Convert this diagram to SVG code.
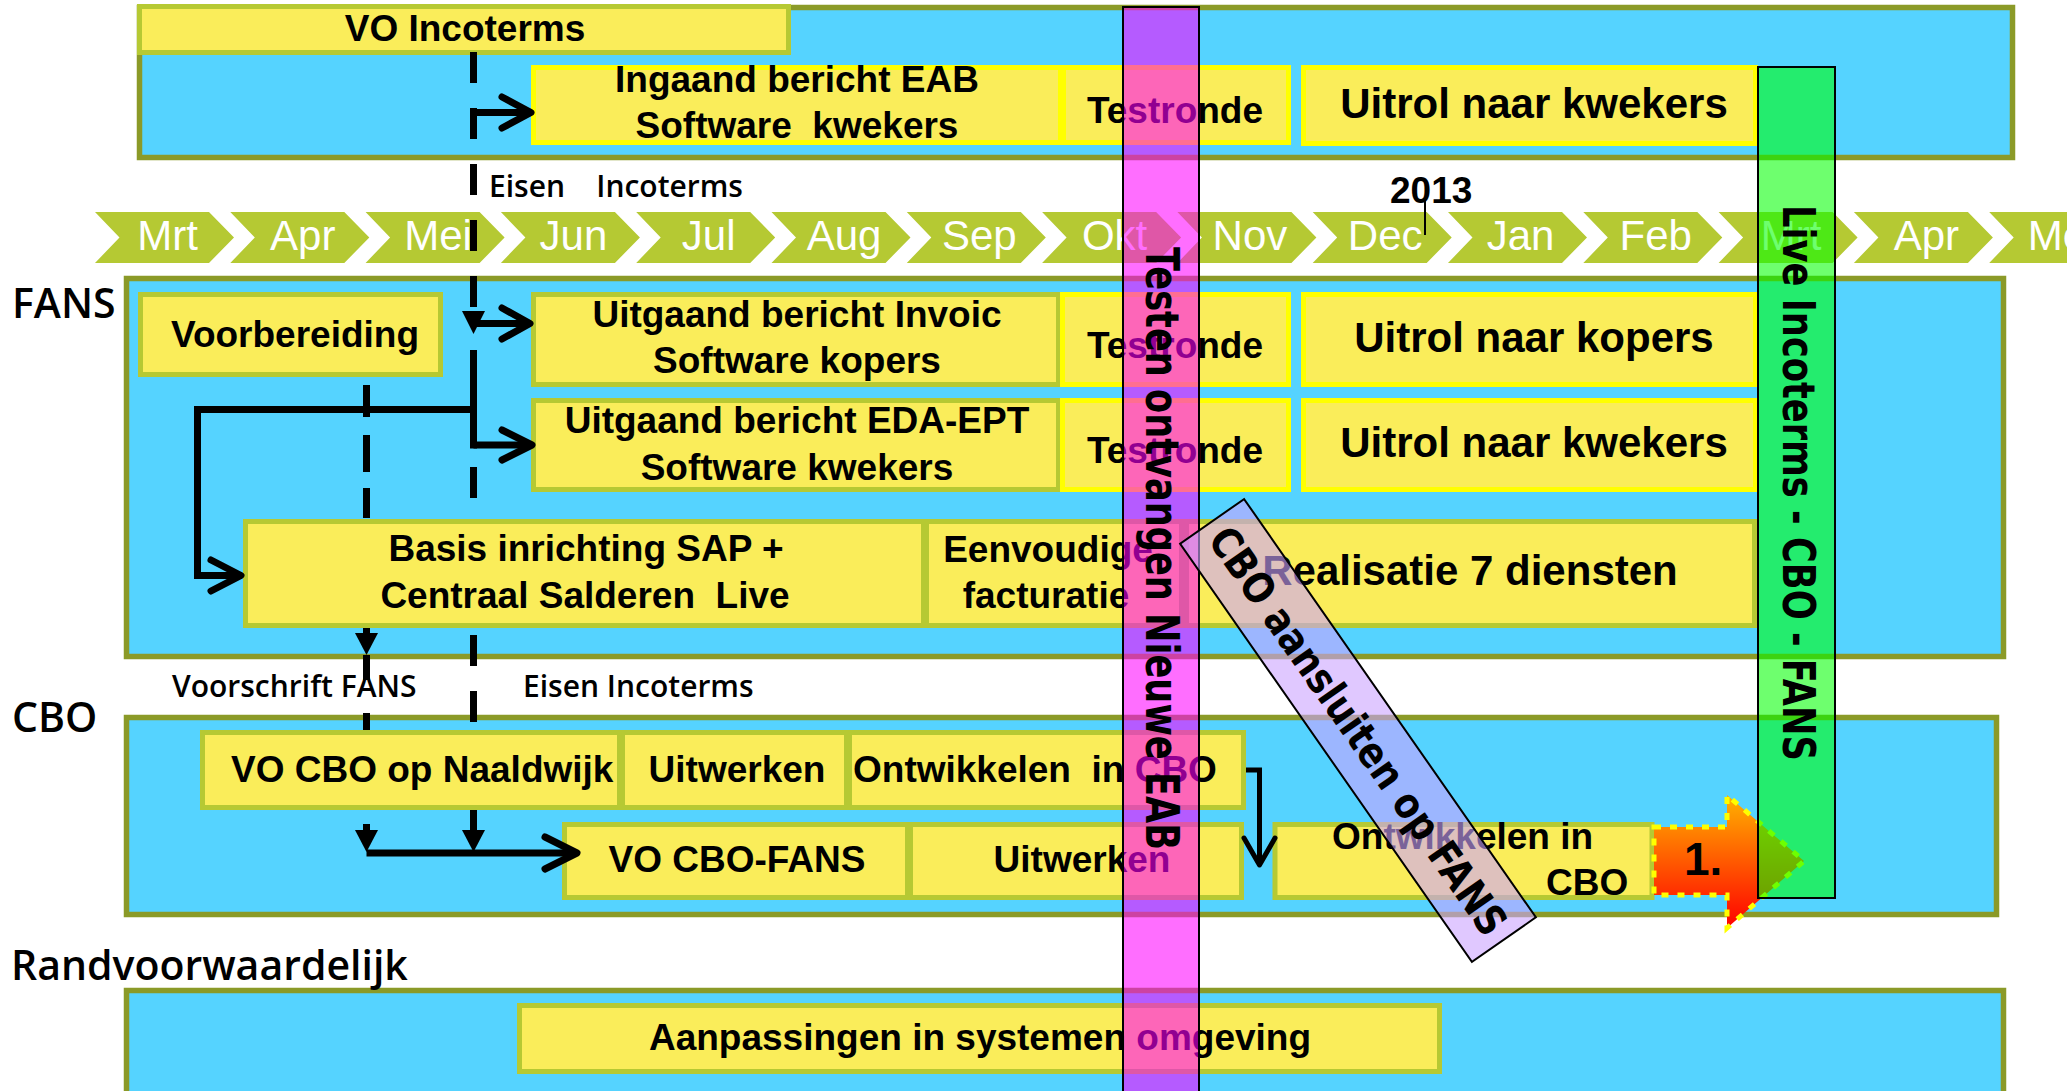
<svg xmlns="http://www.w3.org/2000/svg" width="2067" height="1091" viewBox="0 0 2067 1091">
<style>
.band{fill:#55D3FF;stroke:#8B9A28;stroke-width:5.5}
.box{fill:#FAED5A;stroke:#B6C933;stroke-width:5}
.boxy{fill:#FAED5A;stroke:#FFFF00;stroke-width:5}
.t{font-family:"Liberation Sans",Arial,sans-serif;font-weight:bold;font-size:37px;fill:#000;text-anchor:middle;white-space:pre}
.ts{text-anchor:start}
.big{font-size:42px}
.lbl{font-family:"Open Sans","DejaVu Sans",sans-serif;font-weight:600;font-size:41px;fill:#000;white-space:pre}
.sm{font-size:30px}
.mon{font-family:"Liberation Sans",Arial,sans-serif;font-size:42px;fill:#FFFFFF;text-anchor:middle}
.chev{fill:#B5C933}
.ln{fill:none;stroke:#000;stroke-width:7}
.hd{fill:none;stroke:#000;stroke-width:7;stroke-linecap:round;stroke-linejoin:round}
.tri{fill:#000}
.vt{font-family:"DejaVu Sans",Verdana,sans-serif;font-weight:bold;fill:#000}
</style>
<defs>
<path id="chev" d="M0 212 h114 l25 25.5 l-25 25.5 h-114 l24.5 -25.5 z"/>
<linearGradient id="og" x1="0" y1="0" x2="0" y2="1">
<stop offset="0" stop-color="#FFB300"/>
<stop offset="1" stop-color="#FF0000"/>
</linearGradient>
</defs>
<rect width="2067" height="1091" fill="#FFFFFF"/>

<g id="bands">
<rect class="band" x="139.5" y="7.5" width="1873" height="150"/>
<rect class="band" x="126.5" y="278.5" width="1877" height="378"/>
<rect class="band" x="126.5" y="717.5" width="1870" height="197"/>
<rect class="band" x="126.5" y="990.5" width="1877" height="200"/>
</g>

<g id="timeline">
<use href="#chev" x="95" class="chev"/>
<use href="#chev" x="230.3" class="chev"/>
<use href="#chev" x="365.6" class="chev"/>
<use href="#chev" x="500.9" class="chev"/>
<use href="#chev" x="636.2" class="chev"/>
<use href="#chev" x="771.5" class="chev"/>
<use href="#chev" x="906.8" class="chev"/>
<use href="#chev" x="1042.1" class="chev"/>
<use href="#chev" x="1177.4" class="chev"/>
<use href="#chev" x="1312.7" class="chev"/>
<use href="#chev" x="1448" class="chev"/>
<use href="#chev" x="1583.3" class="chev"/>
<use href="#chev" x="1718.6" class="chev"/>
<use href="#chev" x="1853.9" class="chev"/>
<use href="#chev" x="1989.2" class="chev"/>
<text class="mon" x="167.5" y="250">Mrt</text>
<text class="mon" x="302.8" y="250">Apr</text>
<text class="mon" x="438.1" y="250">Mei</text>
<text class="mon" x="573.4" y="250">Jun</text>
<text class="mon" x="708.7" y="250">Jul</text>
<text class="mon" x="844" y="250">Aug</text>
<text class="mon" x="979.3" y="250">Sep</text>
<text class="mon" x="1114.6" y="250">Okt</text>
<text class="mon" x="1249.9" y="250">Nov</text>
<text class="mon" x="1385.2" y="250">Dec</text>
<text class="mon" x="1520.5" y="250">Jan</text>
<text class="mon" x="1655.8" y="250">Feb</text>
<text class="mon" x="1791.1" y="250">Mrt</text>
<text class="mon" x="1926.4" y="250">Apr</text>
<text class="mon" x="2061.7" y="250">Mei</text>
<text class="t ts" x="1390" y="203">2013</text>
</g>

<g id="labels">
<text class="lbl" x="12" y="318">FANS</text>
<text class="lbl" x="12" y="732">CBO</text>
<text class="lbl" x="11" y="980">Randvoorwaardelijk</text>
<text class="lbl sm" x="489" y="197">Eisen    Incoterms</text>
<text class="lbl sm" x="172" y="697">Voorschrift FANS</text>
<text class="lbl sm" x="523" y="697">Eisen Incoterms</text>
</g>

<g id="n-vo-incoterms"><rect class="box" x="139.5" y="6.5" width="649" height="46"/><text class="t" x="465" y="41">VO Incoterms</text></g>
<g id="n-ingaand"><rect class="boxy" x="533.5" y="67.5" width="527" height="75"/><text class="t" x="797" y="92">Ingaand bericht EAB</text><text class="t" x="797" y="138">Software  kwekers</text></g>
<g id="n-testronde-1"><rect class="boxy" x="1063.5" y="67.5" width="225" height="75"/><text class="t" x="1175" y="123">Testronde</text></g>
<g id="n-uitrol-kwekers-1"><rect class="boxy" x="1303.5" y="67.5" width="452" height="76"/><text class="t big" x="1534" y="118">Uitrol naar kwekers</text></g>

<g id="n-voorbereiding"><rect class="box" x="140.5" y="294.5" width="300" height="80"/><text class="t" x="295" y="347">Voorbereiding</text></g>
<g id="n-invoic"><rect class="box" x="533.5" y="294.5" width="525" height="90"/><text class="t" x="797" y="327">Uitgaand bericht Invoic</text><text class="t" x="797" y="373">Software kopers</text></g>
<g id="n-testronde-2"><rect class="boxy" x="1062.5" y="294.5" width="226" height="90"/><text class="t" x="1175" y="358">Testronde</text></g>
<g id="n-uitrol-kopers"><rect class="boxy" x="1303.5" y="294.5" width="452" height="90"/><text class="t big" x="1534" y="352">Uitrol naar kopers</text></g>
<g id="n-eda"><rect class="box" x="533.5" y="400.5" width="525" height="89"/><text class="t" x="797" y="433">Uitgaand bericht EDA-EPT</text><text class="t" x="797" y="480">Software kwekers</text></g>
<g id="n-testronde-3"><rect class="boxy" x="1062.5" y="400.5" width="226" height="89"/><text class="t" x="1175" y="463">Testronde</text></g>
<g id="n-uitrol-kwekers-2"><rect class="boxy" x="1303.5" y="400.5" width="452" height="89"/><text class="t big" x="1534" y="457">Uitrol naar kwekers</text></g>
<g id="n-basis"><rect class="box" x="245.5" y="521.5" width="678" height="104"/><text class="t" x="586" y="561">Basis inrichting SAP +</text><text class="t" x="585" y="608">Centraal Salderen  Live</text></g>
<g id="n-eenvoudige"><rect class="box" x="926.5" y="521.5" width="255" height="104"/><text class="t" x="1048" y="562">Eenvoudige</text><text class="t" x="1046" y="608">facturatie</text></g>
<g id="n-realisatie"><rect class="box" x="1186.5" y="521.5" width="568" height="104"/><text class="t big" x="1470" y="585">Realisatie 7 diensten</text></g>

<g id="n-vo-cbo-naaldwijk"><rect class="box" x="202.5" y="732.5" width="417" height="75"/><text class="t ts" x="231" y="782">VO CBO op Naaldwijk</text></g>
<g id="n-uitwerken-1"><rect class="box" x="622.5" y="732.5" width="224" height="75"/><text class="t" x="737" y="782">Uitwerken</text></g>
<g id="n-ontwikkelen-1"><rect class="box" x="849.5" y="732.5" width="394" height="75"/><text class="t ts" x="853" y="782">Ontwikkelen  in CBO</text></g>
<g id="n-vo-cbo-fans"><rect class="box" x="564.5" y="824.5" width="343" height="73"/><text class="t" x="737" y="872">VO CBO-FANS</text></g>
<g id="n-uitwerken-2"><rect class="box" x="910.5" y="824.5" width="331" height="73"/><text class="t" x="1082" y="872">Uitwerken</text></g>
<g id="n-ontwikkelen-2"><rect class="box" x="1275" y="824.5" width="377" height="73"/><text class="t ts" x="1332" y="849">Ontwikkelen in</text><text class="t ts" x="1546" y="895">CBO</text></g>

<g id="n-aanpassingen"><rect class="box" x="519.5" y="1005.5" width="920" height="66"/><text class="t" x="980" y="1050">Aanpassingen in systemen omgeving</text></g>

<g id="connectors">
<path class="ln" d="M473.5 52 V307" stroke-dasharray="31 25"/>
<path class="tri" d="M462 311 H485 L473.5 334 Z"/>
<path class="ln" d="M470 112.5 H529"/>
<path class="hd" d="M502 97 L531 112.5 L502 128"/>
<path class="ln" d="M473.5 323.5 H527"/>
<path class="hd" d="M502 308 L530 323.5 L502 339"/>
<path class="ln" d="M473.5 350 V448.5"/>
<path class="ln" d="M477 409.5 H197.5 V575.5 H239"/>
<path class="hd" d="M211 560 L241 575.5 L211 591"/>
<path class="ln" d="M473.5 445 H529"/>
<path class="hd" d="M502 430 L532 445 L502 460"/>
<path class="ln" d="M473.5 467 V498"/>
<path class="ln" d="M473.5 635 V666 M473.5 691 V722"/>
<path class="ln" d="M473.5 810 V832"/>
<path class="tri" d="M462 830 H485 L473.5 852 Z"/>
<path class="ln" d="M366.5 385 V417 M366.5 435 V472 M366.5 488 V518"/>
<path class="ln" d="M366.5 628 V634"/>
<path class="tri" d="M355 633 H378 L366.5 655 Z"/>
<path class="ln" d="M366.5 655 V680 M366.5 713 V730"/>
<path class="ln" d="M366.5 824 V832"/>
<path class="tri" d="M355 830 H378 L366.5 852 Z"/>
<path class="ln" d="M366.5 853 H573"/>
<path class="hd" d="M545 837 L577 853 L545 869"/>
<path fill="none" stroke="#000" stroke-width="5" d="M1246 770 H1259.5 V862"/>
<path fill="none" stroke="#000" stroke-width="5" stroke-linecap="round" stroke-linejoin="round" d="M1244 838 L1259.5 865 L1275 838"/>
<path fill="none" stroke="#000" stroke-width="2" d="M1425 197 V235"/>
</g>

<g id="n-arrow-1">
<path d="M1654 827 H1727 V795 L1804 861 L1727 928 V895 H1654 Z" fill="url(#og)" stroke="#FFFF00" stroke-width="5" stroke-dasharray="7 9"/>
<text class="t ts" x="1684" y="875" style="font-size:46px">1.</text>
</g>

<g id="n-testen-eab">
<rect x="1123" y="7" width="76" height="1090" fill="#FF00FF" fill-opacity="0.57" stroke="#000" stroke-width="2"/>
<text class="vt" transform="translate(1163,247) rotate(90)" x="0" y="17" font-size="46" textLength="603" lengthAdjust="spacingAndGlyphs">Testen ontvangen Nieuwe EAB</text>
</g>

<g id="n-cbo-aansluiten" transform="translate(1358,730.5) rotate(55.1)">
<rect x="-255" y="-39" width="510" height="78" fill="#CBA3FF" fill-opacity="0.6" stroke="#000" stroke-width="2"/>
<text class="vt" x="-243" y="15" font-size="42" textLength="487" lengthAdjust="spacingAndGlyphs">CBO aansluiten op FANS</text>
</g>

<g id="n-live">
<rect x="1758" y="67" width="77" height="831" fill="#00FF00" fill-opacity="0.57" stroke="#000" stroke-width="2"/>
<text class="vt" transform="translate(1798.5,205) rotate(90)" x="0" y="16" font-size="44" textLength="556" lengthAdjust="spacingAndGlyphs">Live Incoterms - CBO - FANS</text>
</g>
</svg>
